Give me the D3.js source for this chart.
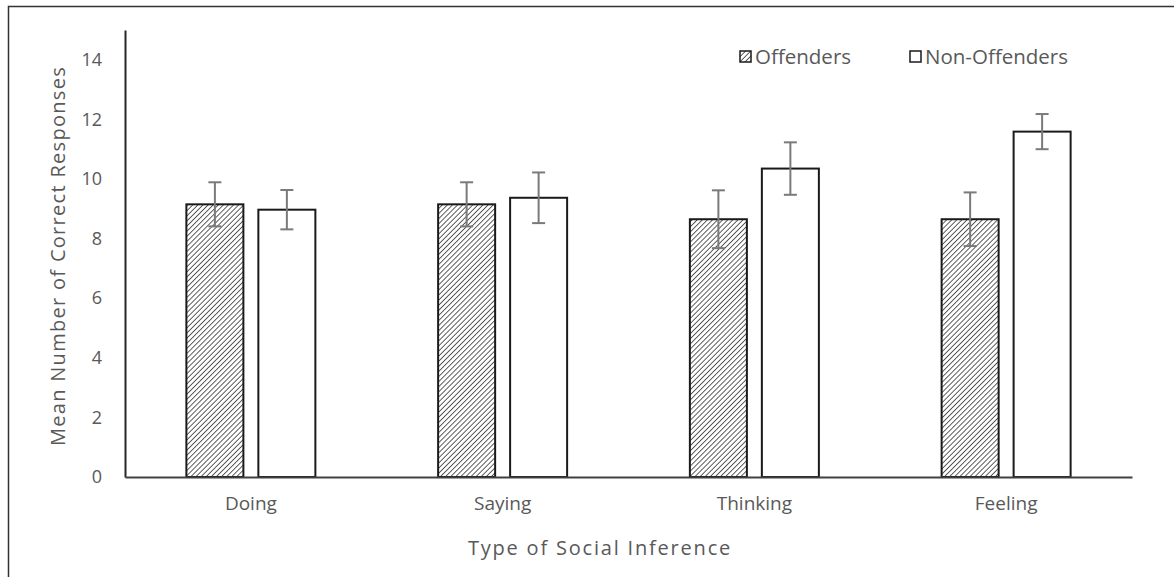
<!DOCTYPE html>
<html>
<head>
<meta charset="utf-8">
<script src="https://cdn.jsdelivr.net/npm/d3@7/dist/d3.min.js"></script>
<style>
  html, body { margin: 0; padding: 0; background: #fff; }
  svg { display: block; }
  text { font-family: "Open Sans", "Liberation Sans", sans-serif; fill: #595959; }
</style>
</head>
<body>
<svg id="chart" width="1174" height="577"></svg>
<script>
// Social inference scores by group (means with standard error)
const categories = ["Doing", "Saying", "Thinking", "Feeling"];
const seriesNames = ["Offenders", "Non-Offenders"];
const offenderMeans = [9.15, 9.15, 8.65, 8.65];
const offenderErrors = [0.74, 0.74, 0.97, 0.90];
const nonOffenderMeans = [8.97, 9.37, 10.35, 11.59];
const nonOffenderErrors = [0.66, 0.85, 0.88, 0.59];
const yTicks = [0, 2, 4, 6, 8, 10, 12, 14];

const rows = [];
categories.forEach((c, i) => {
  rows.push({ cat: c, series: seriesNames[0], mean: offenderMeans[i], err: offenderErrors[i] });
  rows.push({ cat: c, series: seriesNames[1], mean: nonOffenderMeans[i], err: nonOffenderErrors[i] });
});

const svg = d3.select("#chart");

// hatched fill for the offender bars
const defs = svg.append("defs");
const pat = defs.append("pattern")
  .attr("id", "hatch")
  .attr("patternUnits", "userSpaceOnUse")
  .attr("width", 3.6).attr("height", 3.6)
  .attr("patternTransform", "rotate(45)");
pat.append("rect").attr("width", 3.6).attr("height", 3.6).attr("fill", "#fff");
pat.append("line").attr("x1", 0).attr("y1", 0).attr("x2", 0).attr("y2", 3.6)
  .attr("stroke", "#1a1a1a").attr("stroke-width", 1.4);

// frame around the figure
svg.append("rect")
  .attr("x", 8.5).attr("y", 6.5).attr("width", 1200).attr("height", 620)
  .attr("fill", "none").attr("stroke", "#333").attr("stroke-width", 1.5);

const plotLeft = 125, plotRight = 1132, plotTop = 30, plotBottom = 477;

const y = d3.scaleLinear().domain([0, 15]).range([plotBottom, plotTop]);
const x0 = d3.scaleBand().domain(categories).range([plotLeft, plotRight]).paddingInner(0.4876).paddingOuter(0.2438);
const x1 = d3.scaleBand().domain(seriesNames).range([0, x0.bandwidth()]).paddingInner(0.208);

// y axis
const yAxis = d3.axisLeft(y).tickValues(yTicks).tickSize(0).tickPadding(23).tickFormat(d3.format("d"));
const yg = svg.append("g").attr("transform", `translate(${plotLeft},0)`).call(yAxis);
yg.select(".domain").attr("stroke", "#262626").attr("stroke-width", 2);
yg.selectAll("text").style("font-size", "18px").style("fill", "#595959").style("font-family", "'Open Sans', sans-serif");

// bars
svg.append("g").selectAll("rect").data(rows).join("rect")
  .attr("x", d => x0(d.cat) + x1(d.series))
  .attr("y", d => y(d.mean))
  .attr("width", x1.bandwidth())
  .attr("height", d => y(0) - y(d.mean))
  .attr("fill", d => d.series === "Offenders" ? "url(#hatch)" : "#fff")
  .attr("stroke", "#1a1a1a").attr("stroke-width", 2);

// x axis
const xAxis = d3.axisBottom(x0).tickSize(0).tickPadding(20);
const xg = svg.append("g").attr("transform", `translate(0,${plotBottom})`).call(xAxis);
xg.select(".domain").attr("stroke", "#404040").attr("stroke-width", 2);
xg.selectAll("text").style("font-size", "19px").style("fill", "#595959").style("font-family", "'Open Sans', sans-serif");

// error bars
const eb = svg.append("g").attr("stroke", "#7a7a7a").attr("stroke-width", 2).selectAll("g").data(rows).join("g")
  .attr("transform", d => `translate(${x0(d.cat) + x1(d.series) + x1.bandwidth() / 2},0)`);
eb.append("line").attr("y1", d => y(d.mean + d.err)).attr("y2", d => y(d.mean - d.err));
eb.append("line").attr("x1", -6.5).attr("x2", 6.5).attr("y1", d => y(d.mean + d.err)).attr("y2", d => y(d.mean + d.err));
eb.append("line").attr("x1", -6.5).attr("x2", 6.5).attr("y1", d => y(d.mean - d.err)).attr("y2", d => y(d.mean - d.err));

// axis titles
svg.append("text")
  .attr("transform", `translate(65,256) rotate(-90)`)
  .attr("text-anchor", "middle")
  .style("font-size", "20px")
  .style("letter-spacing", "1.3px")
  .text("Mean Number of Correct Responses");
svg.append("text")
  .attr("x", 600).attr("y", 555)
  .attr("text-anchor", "middle")
  .style("font-size", "20px")
  .style("letter-spacing", "1.8px")
  .text("Type of Social Inference");

// legend
const legendItems = [
  { name: seriesNames[0], x: 740, fill: "url(#hatch)" },
  { name: seriesNames[1], x: 910, fill: "#fff" }
];
const lg = svg.append("g").selectAll("g").data(legendItems).join("g")
  .attr("transform", d => `translate(${d.x},51)`);
lg.append("rect").attr("width", 11).attr("height", 11)
  .attr("fill", d => d.fill).attr("stroke", "#1a1a1a").attr("stroke-width", 1.5);
lg.append("text").attr("x", 15).attr("y", 12.5).style("font-size", "20.5px").text(d => d.name);
</script>
</body>
</html>
